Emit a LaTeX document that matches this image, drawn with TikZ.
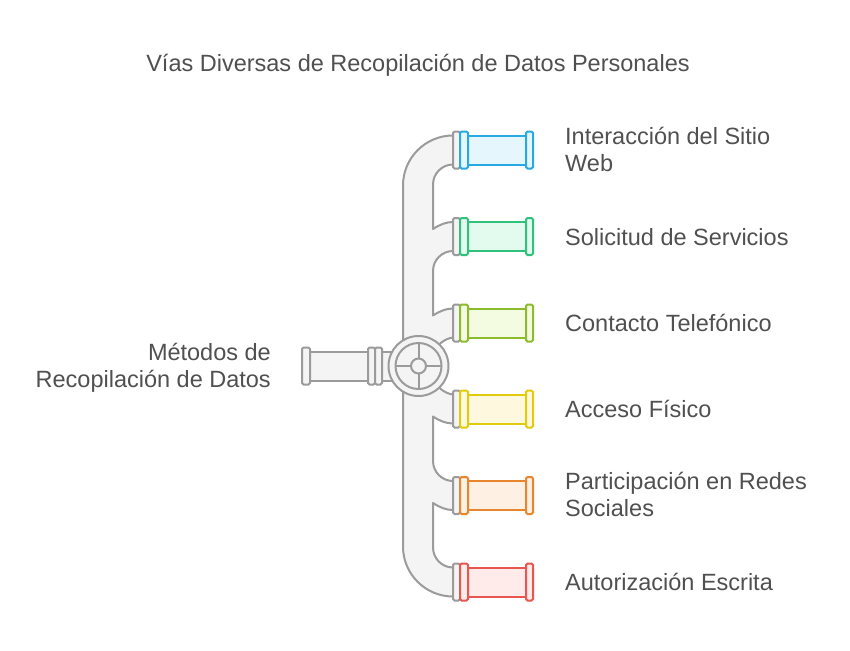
\documentclass[tikz,border=0pt]{standalone}
\usepackage{fontspec}
\setmainfont{Liberation Sans}
\definecolor{txt}{HTML}{505050}
\definecolor{gS}{HTML}{9B9B9B}
\definecolor{gF}{HTML}{F4F4F4}
\definecolor{pblueS}{HTML}{27A9E1}
\definecolor{pblueF}{HTML}{E6F6FD}
\definecolor{pgreenS}{HTML}{2EC27A}
\definecolor{pgreenF}{HTML}{E3FBEE}
\definecolor{plimeS}{HTML}{8DBB2E}
\definecolor{plimeF}{HTML}{F3FCE1}
\definecolor{pyellowS}{HTML}{E2CB0C}
\definecolor{pyellowF}{HTML}{FEF9DE}
\definecolor{porangeS}{HTML}{E8852F}
\definecolor{porangeF}{HTML}{FEF0E3}
\definecolor{predS}{HTML}{E9554F}
\definecolor{predF}{HTML}{FEEBEA}
\begin{document}
\begin{tikzpicture}[x=1pt,y=-1pt,
  pipe/.style={draw=gS,fill=gF,line width=2pt,line join=round},
  gflange/.style={draw=gS,fill=gF,line width=2pt,rounded corners=1.5pt},
  lbl/.style={font=\fontsize{23.5}{27}\selectfont,text=txt,text height=17pt,text depth=0pt,inner sep=0pt,align=left}]
\useasboundingbox[fill=white] (0,0) rectangle (850,650);
\node[lbl,align=center] (title) at (418,63) {Vías Diversas de Recopilación de Datos Personales};
% main manifold
\draw[pipe] (403,185.5) .. controls (403,157.9) and (425.4,135.5) .. (453,135.5)
  -- (453,164.5) .. controls (442,164.5) and (433,173.5) .. (433,184.5)
  -- (433,229) .. controls (440,224.5) and (446,222) .. (453,222)
  -- (453,251) .. controls (442,251) and (433,260) .. (433,271)
  -- (433,315.5) .. controls (440,311) and (446,308.5) .. (453,308.5)
  -- (453,337.5) .. controls (445,338.5) and (438,344) .. (433,352)
  -- (433,380) .. controls (438,388) and (445,393.5) .. (453,394.5)
  -- (453,423.5) .. controls (446,423.5) and (440,421) .. (433,416.5)
  -- (433,461) .. controls (433,472) and (442,481) .. (453,481)
  -- (453,510) .. controls (446,510) and (440,507.5) .. (433,503)
  -- (433,547.5) .. controls (433,558.5) and (442,567.5) .. (453,567.5)
  -- (453,596.5) .. controls (425.4,596.5) and (403,574.1) .. (403,546.5)
  -- cycle;
% left inlet
\draw[pipe] (382,351.5) rectangle (396,380.5);
\draw[pipe] (310,351.5) rectangle (368,380.5);
\draw[gflange] (302,347.5) rectangle (310,384.5);
\draw[gflange] (368,347.5) rectangle (375,384.5);
\draw[gflange] (375,347.5) rectangle (382,384.5);
% valve wheel
\draw[pipe] (418.5,366) circle[radius=30];
\draw[pipe] (418.5,366) circle[radius=23];
\draw[draw=gS,line width=2pt] (395.5,366) -- (411,366) (426,366) -- (441.5,366)
  (418.5,343) -- (418.5,358.5) (418.5,373.5) -- (418.5,389);
\draw[pipe] (418.5,366) circle[radius=7.5];
% outlets
\foreach \c/\cc in {150/blue,236.5/green,323/lime,409/yellow,495.5/orange,582/red}{
  \draw[gflange] (453,\c-18.5) rectangle (460,\c+18.5);
  \draw[draw=p\cc S,fill=p\cc F,line width=2pt] (468,\c-14.5) rectangle (526,\c+14.5);
  \draw[draw=p\cc S,fill=p\cc F,line width=2pt,rounded corners=1.5pt] (460,\c-18.5) rectangle (468,\c+18.5);
  \draw[draw=p\cc S,fill=p\cc F,line width=2pt,rounded corners=1.5pt] (526,\c-18.5) rectangle (533,\c+18.5);
}
% labels
\node[lbl,anchor=east,align=right] (src) at (271,379) {Métodos de\\Recopilación de Datos};
\node[lbl,anchor=west] (l1) at (565,163) {Interacción del Sitio\\Web};
\node[lbl,anchor=west] (l2) at (565,236.5) {Solicitud de Servicios};
\node[lbl,anchor=west] (l3) at (565,323) {Contacto Telefónico};
\node[lbl,anchor=west] (l4) at (565,409) {Acceso Físico};
\node[lbl,anchor=west] (l5) at (565,508) {Participación en Redes\\Sociales};
\node[lbl,anchor=west] (l6) at (565,582) {Autorización Escrita};
\end{tikzpicture}
\end{document}
